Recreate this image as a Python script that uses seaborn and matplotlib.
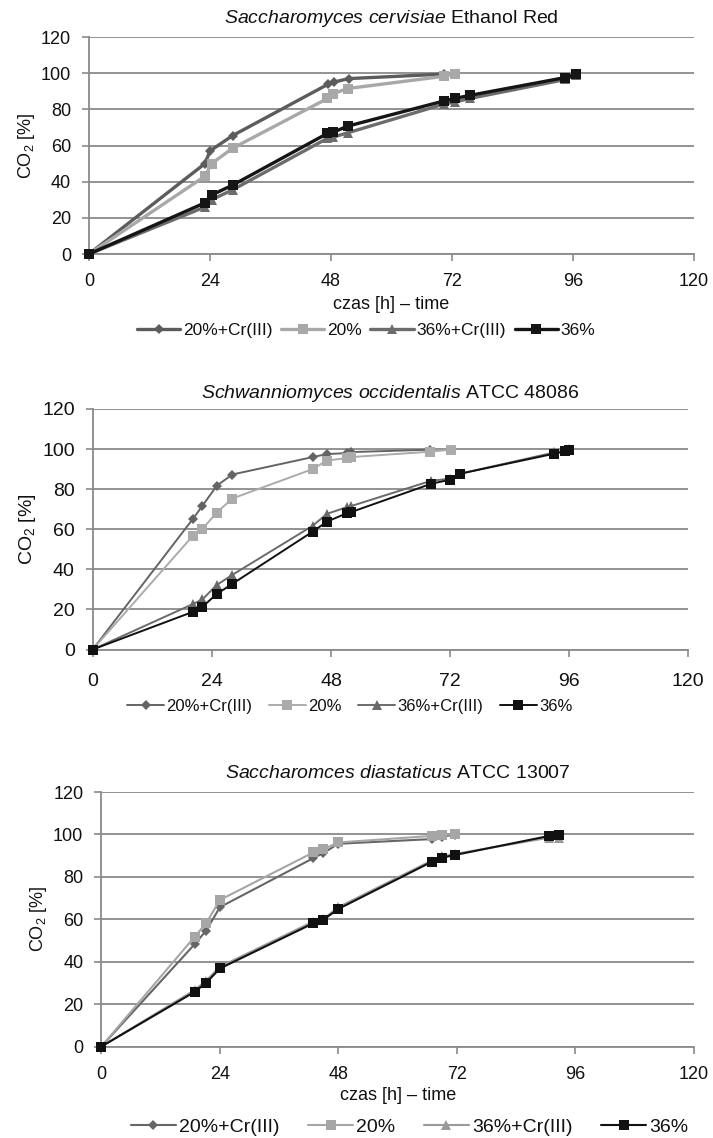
import matplotlib
matplotlib.use("Agg")
import matplotlib.pyplot as plt
import seaborn as sns

sns.set_theme(style="white")
plt.rcParams['font.family'] = ['Liberation Sans', 'DejaVu Sans']
plt.rcParams['mathtext.fontset'] = 'custom'
plt.rcParams['mathtext.it'] = 'Liberation Sans:italic'
plt.rcParams['mathtext.rm'] = 'Liberation Sans'
plt.rcParams['mathtext.default'] = 'regular'

series_names = ["20%+Cr(III)", "20%", "36%+Cr(III)", "36%"]
x_ticks = [0, 24, 48, 72, 96, 120]
y_ticks = [0, 20, 40, 60, 80, 100, 120]

titles = [
    r"$\mathit{Saccharomyces\ cervisiae}$ Ethanol Red",
    r"$\mathit{Schwanniomyces\ occidentalis}$ ATCC 48086",
    r"$\mathit{Saccharomces\ diastaticus}$ ATCC 13007",
]
x_label = "czas [h] – time"
y_label = "CO$_2$ [%]"

# Panel 1
p1_t_20cr = [0, 23, 24, 28.5, 47.5, 48.5, 51.5, 70.5]
p1_v_20cr = [0, 50, 57, 65.5, 94, 95, 97, 99.5]
p1_t_20 = [0, 23, 24.3, 28.5, 47.3, 48.3, 51.3, 70.5, 72.5]
p1_v_20 = [0, 43, 50, 58.5, 86, 88.5, 91.5, 98.3, 99.8]
p1_t_36 = [0, 23, 24.3, 28.5, 47.3, 48.3, 51.3, 70.5, 72.5, 75.5, 94.5, 96.5]
p1_v_36cr = [0, 26, 30, 35.5, 64, 64.5, 67, 83, 84, 86, 96.5, 99]
p1_v_36 = [0, 28.3, 32.6, 38.1, 66.7, 67.2, 70.7, 84.7, 86, 87.7, 97.6, 99.4]

# Panel 2
p2_t_20cr = [0, 20.2, 22.1, 25, 28.1, 44.3, 47.2, 51.2, 52, 68]
p2_v_20cr = [0, 65.2, 71.7, 81.7, 87.3, 96, 97.5, 98, 98.5, 99.7]
p2_t_20 = [0, 20.2, 22.1, 25, 28.1, 44.3, 47.2, 51.2, 52, 68, 72.2]
p2_v_20 = [0, 56.8, 60.2, 68.3, 75.3, 90, 94.3, 95.5, 96, 98.7, 99.7]
p2_t_36 = [0, 20.2, 22.1, 25, 28.1, 44.3, 47.2, 51.2, 52, 68.2, 72, 74, 93, 95.1, 96]
p2_v_36cr = [0, 22.7, 25, 32.2, 37.2, 61.7, 67.7, 71, 71.5, 84.2, 85.2, 87.7, 98.3, 99.2, 100]
p2_v_36 = [0, 18.8, 21.3, 27.7, 32.7, 58.8, 63.8, 68, 68.5, 82.7, 84.7, 87.7, 97.7, 98.8, 99.7]

# Panel 3
p3_t_20 = [0, 18.9, 21.2, 24, 42.9, 44.9, 48, 66.9, 68.9, 71.6]
p3_v_20cr = [0, 48.3, 54.6, 65.7, 88.8, 91.2, 95.6, 97.8, 99, 99.8]
p3_v_20 = [0, 51.8, 58.1, 69.1, 91.5, 93, 96.2, 99.3, 99.8, 100]
p3_t_36 = [0, 18.9, 21.2, 24, 42.9, 44.9, 48, 66.9, 68.9, 71.6, 90.7, 92.7]
p3_v_36cr = [0, 26.6, 31, 37.6, 58.9, 60, 65.7, 87.7, 89.6, 90.8, 98.5, 98.5]
p3_v_36 = [0, 25.8, 30, 36.8, 58.1, 59.7, 64.9, 87.1, 89, 90.3, 99.3, 99.7]

panels = [
    [(p1_t_20cr, p1_v_20cr), (p1_t_20, p1_v_20), (p1_t_36, p1_v_36cr), (p1_t_36, p1_v_36)],
    [(p2_t_20cr, p2_v_20cr), (p2_t_20, p2_v_20), (p2_t_36, p2_v_36cr), (p2_t_36, p2_v_36)],
    [(p3_t_20, p3_v_20cr), (p3_t_20, p3_v_20), (p3_t_36, p3_v_36cr), (p3_t_36, p3_v_36)],
]

colors = [
    ["#5c5c5c", "#a8a8a8", "#6c6c6c", "#151515"],
    ["#646464", "#ababab", "#6a6a6a", "#111111"],
    ["#666666", "#a6a6a6", "#9a9a9a", "#111111"],
]
markers = ["D", "s", "^", "s"]
msizes = [5.5, 7, 7.5, 6.5]
lwidths = [2.4, 1.4, 1.5]

W, H = 713, 1138
fig = plt.figure(figsize=(W / 100, H / 100), dpi=100)

# pixel boxes: left, top, right, bottom
boxes = [(89, 37, 694, 254), (92.7, 409, 688.3, 649.5), (101.4, 792, 694, 1046.5)]
tick_fs = [13, 14, 13]
leg_fs = [12.5, 12, 14]
title_pad = [10, 8, 10]
xpad = [9, 12, 9]
xlpad = [4, 4, 3]
leg_x = [0.458, 0.432, 0.52]
leg_y = [-0.352, -0.235, -0.316]
col_sp = [0.5, 1.0, 1.5]
hlen = [2.5, 2.2, 2.3]
grid_c = "#8a8a8a"

for i, (l, t, r, b) in enumerate(boxes):
    ax = fig.add_axes([l / W, 1 - b / H, (r - l) / W, (b - t) / H])
    for j, (xs, ys) in enumerate(panels[i]):
        sns.lineplot(x=xs, y=ys, ax=ax, color=colors[i][j], marker=markers[j],
                     markersize=msizes[j], markeredgewidth=0, linewidth=lwidths[i],
                     label=series_names[j], estimator=None, sort=False,
                     clip_on=False, zorder=3 + j)
    ax.set_xlim(0, 120)
    ax.set_ylim(0, 120)
    ax.set_xticks(x_ticks)
    ax.set_yticks(y_ticks)
    ax.grid(axis="y", color=grid_c, linewidth=1.3)
    ax.grid(axis="x", visible=False)
    for s in ["top", "right"]:
        ax.spines[s].set_visible(False)
    for s in ["left", "bottom"]:
        ax.spines[s].set_color(grid_c)
        ax.spines[s].set_linewidth(1.3)
    ax.tick_params(axis="both", which="major", length=5, width=1.2, color=grid_c,
                   labelsize=tick_fs[i], labelcolor="#111111", direction="out",
                   bottom=True, left=True)
    ax.tick_params(axis="y", pad=8)
    ax.tick_params(axis="x", pad=xpad[i])
    ax.set_title(titles[i], fontsize=14, color="#111111", pad=title_pad[i])
    ax.set_ylabel(y_label, fontsize=tick_fs[i], color="#111111", labelpad=3)
    if i != 1:
        ax.set_xlabel(x_label, fontsize=tick_fs[i], color="#111111", labelpad=xlpad[i])
    else:
        ax.set_xlabel("")
    ax.legend(loc="center", bbox_to_anchor=(leg_x[i], leg_y[i]), ncol=4,
              frameon=False, fontsize=leg_fs[i], handlelength=hlen[i],
              handletextpad=0.15, columnspacing=col_sp[i], labelcolor="#111111",
              borderpad=0.2)

fig.savefig("out.png", dpi=100)
